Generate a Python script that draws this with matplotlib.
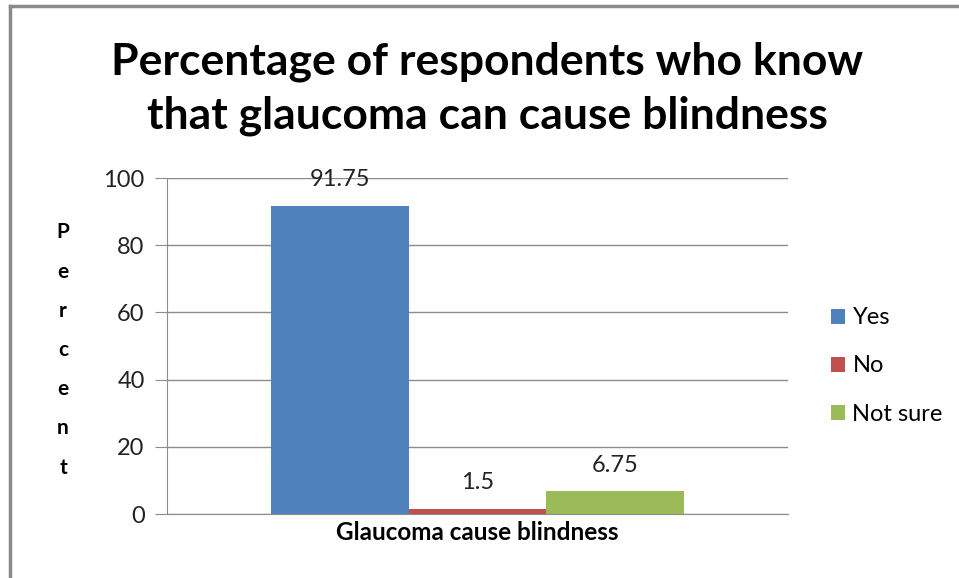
import numpy as np
import matplotlib
matplotlib.use("Agg")
import matplotlib.pyplot as plt
from matplotlib.patches import Patch
from matplotlib.lines import Line2D

plt.rcParams['font.family'] = ['Lato', 'DejaVu Sans']

categories = ["Yes", "No", "Not sure"]
values = [91.75, 1.5, 6.75]
value_labels = ["91.75", "1.5", "6.75"]
colors = ["#4f81bd", "#c0504d", "#9bbb59"]
group_label = "Glaucoma cause blindness"
title = "Percentage of respondents who know\nthat glaucoma can cause blindness"

fig = plt.figure(figsize=(9.59, 5.78), dpi=100)
ax = fig.add_axes([0.1741, 0.1107, 0.6476, 0.5813])

width = 0.222
xs = (np.arange(len(values)) - 1) * width
ax.bar(xs, values, width=width, color=colors, zorder=3)

for x, v, lab in zip(xs, values, value_labels):
    ax.text(x, v + 7.8, lab, ha='center', va='center', fontsize=17, color='#222222')

ax.set_xlim(-0.5, 0.5)
ax.set_ylim(0, 100)
ax.set_yticks(range(0, 101, 20))
ax.set_xticks([])
ax.grid(axis='y', color='#8c8c8c', lw=1, zorder=0)
ax.tick_params(axis='y', length=9, color='#8c8c8c', labelsize=17, pad=7, labelcolor='#222222')
for s in ['top', 'right']:
    ax.spines[s].set_visible(False)
ax.spines['left'].set_color('#8c8c8c')
ax.spines['bottom'].set_color('#8c8c8c')

ax.set_xlabel(group_label, fontsize=17.5, fontweight='bold', labelpad=5)

fig.text(487 / 959, 1 - 89 / 578, title, ha='center', va='center',
         fontsize=32, fontweight='bold', linespacing=1.42)

fig.text(63 / 959, 1 - 350 / 578, "\n".join("Percent"), ha='center', va='center',
         fontsize=15, fontweight='bold', linespacing=2.2)

handles = [Patch(facecolor=c) for c in colors]
leg = fig.legend(handles, categories, loc='center left', bbox_to_anchor=(810 / 959, 1 - 366 / 578),
                 frameon=False, fontsize=17, handlelength=0.6, handleheight=0.6,
                 handletextpad=0.3, labelspacing=1.15)

# frame lines of the original image
fig.add_artist(Line2D([10 / 959, 10 / 959], [0, 1 - 6 / 578], transform=fig.transFigure,
                      color='#8a8a8a', lw=2.5))
fig.add_artist(Line2D([10 / 959, 1], [1 - 6 / 578, 1 - 6 / 578], transform=fig.transFigure,
                      color='#8a8a8a', lw=2.5))

fig.savefig("out.png", dpi=100)
